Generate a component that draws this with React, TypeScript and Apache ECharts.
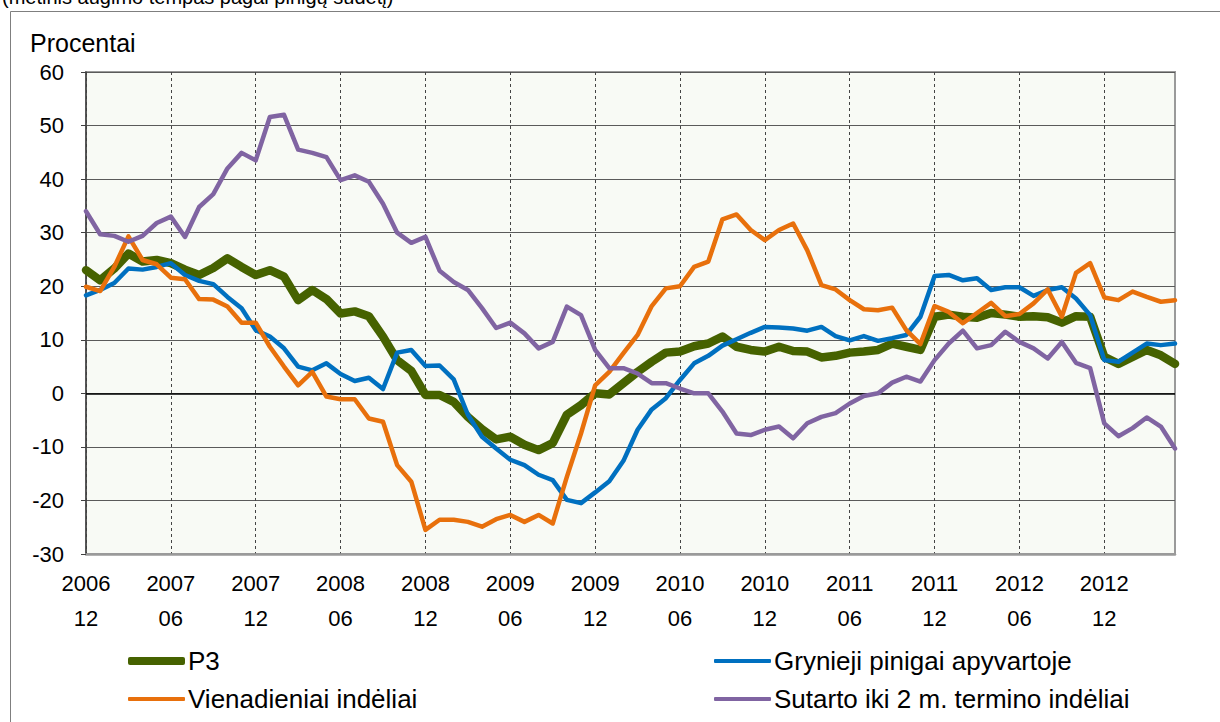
import React, { useEffect, useRef } from "react";
import * as echarts from "echarts";

// Months 2006-12 .. 2013-05
const startYear = 2006;
const startMonth = 12;
const monthCount = 78;
const categories: string[] = [];
for (let i = 0; i < monthCount; i++) {
  const m0 = startMonth - 1 + i;
  const y = startYear + Math.floor(m0 / 12);
  const m = (m0 % 12) + 1;
  categories.push(`${y}\n${m < 10 ? "0" + m : m}`);
}

const seriesNames = [
  "P3",
  "Grynieji pinigai apyvartoje",
  "Vienadieniai indėliai",
  "Sutarto iki 2 m. termino indėliai",
];

const p3 = [
  23, 21.1, 23.3, 26.1, 24.6, 24.9, 24.3, 23.1, 22.1, 23.4, 25.2, 23.6, 22.1, 23, 21.8, 17.4, 19.3, 17.6,
  14.9, 15.3, 14.4, 10.6, 6.2, 4.2, -0.3, -0.3, -1.6, -4.4, -6.7, -8.6, -8.1, -9.6, -10.6, -9.3, -4, -2.2,
  0, -0.2, 1.9, 4, 5.9, 7.6, 7.8, 8.8, 9.3, 10.6, 8.7, 8.1, 7.8, 8.7, 7.9, 7.8, 6.7, 7,
  7.6, 7.8, 8.1, 9.3, 8.7, 8.1, 14.3, 14.7, 14.3, 14.1, 15, 14.7, 14.3, 14.4, 14.2, 13.2, 14.4, 14.3,
  6.8, 5.5, 6.8, 8.1, 7.1, 5.5,
];

const cash = [
  18.3, 19.3, 20.6, 23.3, 23.1, 23.6, 24.3, 22.1, 21, 20.4, 18, 15.9, 11.8, 10.6, 8.4, 5, 4.3, 5.6,
  3.6, 2.3, 2.9, 0.8, 7.6, 8.1, 5.1, 5.2, 2.6, -4, -8.1, -10.3, -12.4, -13.4, -15.2, -16.2, -19.9, -20.5,
  -18.5, -16.4, -12.6, -6.8, -3, -0.9, 2.5, 5.6, 7, 8.9, 10.1, 11.3, 12.4, 12.3, 12.1, 11.7, 12.4, 10.7,
  9.9, 10.7, 9.8, 10.3, 10.9, 14.3, 21.9, 22.1, 21.1, 21.5, 19.3, 19.8, 19.8, 18.2, 19.3, 19.8, 17.7, 14.6,
  6.2, 5.9, 7.6, 9.3, 9, 9.3,
];

const overnight = [
  19.9, 19.1, 23.6, 29.3, 24.9, 24.1, 21.6, 21.3, 17.6, 17.5, 16.2, 13.2, 13.2, 8.7, 5, 1.5, 4, -0.6,
  -1.1, -1.1, -4.7, -5.3, -13.4, -16.5, -25.5, -23.6, -23.6, -24, -24.9, -23.5, -22.7, -24, -22.7, -24.3, -15.6, -7.5,
  1.5, 4, 7.5, 10.9, 16.3, 19.6, 20, 23.6, 24.6, 32.5, 33.4, 30.5, 28.6, 30.5, 31.7, 26.7, 20.2, 19.4,
  17.4, 15.7, 15.5, 16, 11.8, 9.2, 16.3, 15.2, 13.1, 15, 16.9, 14.4, 14.8, 16.8, 19.4, 14.3, 22.5, 24.3,
  17.9, 17.4, 19, 18, 17.1, 17.4,
];

const term2y = [
  34, 29.7, 29.4, 28.3, 29.4, 31.8, 33, 29.2, 34.8, 37.2, 42, 44.9, 43.5, 51.6, 52, 45.5, 44.9, 44.1,
  39.8, 40.7, 39.5, 35.4, 30, 28.1, 29.2, 22.9, 20.8, 19.3, 15.9, 12.2, 13.2, 11.2, 8.4, 9.6, 16.2, 14.6,
  8.1, 4.7, 4.7, 3.7, 1.9, 1.9, 0.9, 0, 0, -3.4, -7.5, -7.8, -6.8, -6.2, -8.4, -5.6, -4.4, -3.7,
  -1.9, -0.5, 0, 2, 3.1, 2.2, 6.2, 9.3, 11.7, 8.4, 9, 11.5, 9.6, 8.4, 6.5, 9.6, 5.7, 4.7,
  -5.6, -8, -6.5, -4.5, -6.2, -10.3,
];

const colors = ["#466200", "#0070C0", "#E8700C", "#8064A2"];
const FONT = "Arial, 'Liberation Sans', sans-serif";

export default function App() {
  const ref = useRef<HTMLDivElement>(null);
  useEffect(() => {
    if (!ref.current) return;
    const chart = echarts.init(ref.current, null, { renderer: "svg" });
    const datasets = [p3, cash, overnight, term2y];
    const widths = [8.5, 4.5, 4.5, 4.5];
    const legendPos = [
      { left: 128, top: 647 },
      { left: 714, top: 647 },
      { left: 128, top: 685 },
      { left: 714, top: 685 },
    ];
    chart.setOption({
      animation: false,
      backgroundColor: "#ffffff",
      grid: {
        left: 86,
        right: 45,
        top: 72,
        bottom: 168,
        show: true,
        backgroundColor: "#F8FAF5",
        borderColor: "#9a9a9a",
        borderWidth: 2,
      },
      legend: seriesNames.map((n, i) => ({
        data: [n],
        left: legendPos[i].left,
        top: legendPos[i].top,
        padding: 0,
        icon: "roundRect",
        itemWidth: 57,
        itemHeight: i === 0 ? 8 : 4,
        itemGap: 4,
        selectedMode: false,
        textStyle: { fontFamily: FONT, fontSize: 26, color: "#000", padding: [0, 0, 0, -2], lineHeight: 28 },
      })),
      xAxis: {
        type: "category",
        data: categories,
        boundaryGap: false,
        axisLine: { onZero: false, lineStyle: { color: "#9a9a9a", width: 2.5 } },
        axisTick: { show: false },
        axisLabel: {
          interval: 5,
          margin: 12,
          fontFamily: FONT,
          fontSize: 22,
          lineHeight: 35,
          color: "#000",
        },
        splitLine: {
          show: true,
          interval: 5,
          lineStyle: { type: [3, 3], color: "#444", width: 1 },
        },
      },
      yAxis: {
        type: "value",
        min: -30,
        max: 60,
        interval: 10,
        axisLine: { show: true, lineStyle: { color: "#404040", width: 1.5 } },
        axisTick: { show: true, length: 5, lineStyle: { color: "#404040" } },
        axisLabel: { margin: 22, fontFamily: FONT, fontSize: 22, color: "#000" },
        splitLine: { show: true, lineStyle: { color: "#5a5a5a", width: 1 } },
      },
      series: datasets.map((d, i) => ({
        name: seriesNames[i],
        type: "line",
        data: d,
        showSymbol: false,
        symbol: "none",
        color: colors[i],
        lineStyle: { color: colors[i], width: widths[i], join: "round", cap: "round" },
        z: 3 + i,
        markLine:
          i === 0
            ? {
                silent: true,
                symbol: "none",
                label: { show: false },
                lineStyle: { color: "#000", width: 1.5, type: "solid" },
                data: [{ yAxis: 0 }],
                z: 1,
              }
            : undefined,
      })),
      graphic: [
        {
          type: "rect",
          silent: true,
          shape: { x: 10.5, y: 11.5, width: 1220, height: 720 },
          style: { fill: "none", stroke: "#7f7f7f", lineWidth: 1 },
        },
        {
          type: "text",
          x: 2,
          y: -13,
          style: {
            text: "(metinis augimo tempas pagal pinigų sudėtį)",
            font: `20px ${FONT}`,
            fill: "#000",
            verticalAlign: "top",
          },
        },
        {
          type: "text",
          x: 30,
          y: 30,
          style: {
            text: "Procentai",
            font: `25px ${FONT}`,
            fill: "#000",
            verticalAlign: "top",
          },
        },
      ],
    });
    return () => chart.dispose();
  }, []);
  return (
    <div
      ref={ref}
      style={{ position: "absolute", left: 0, top: 0, width: 1220, height: 722 }}
    />
  );
}
